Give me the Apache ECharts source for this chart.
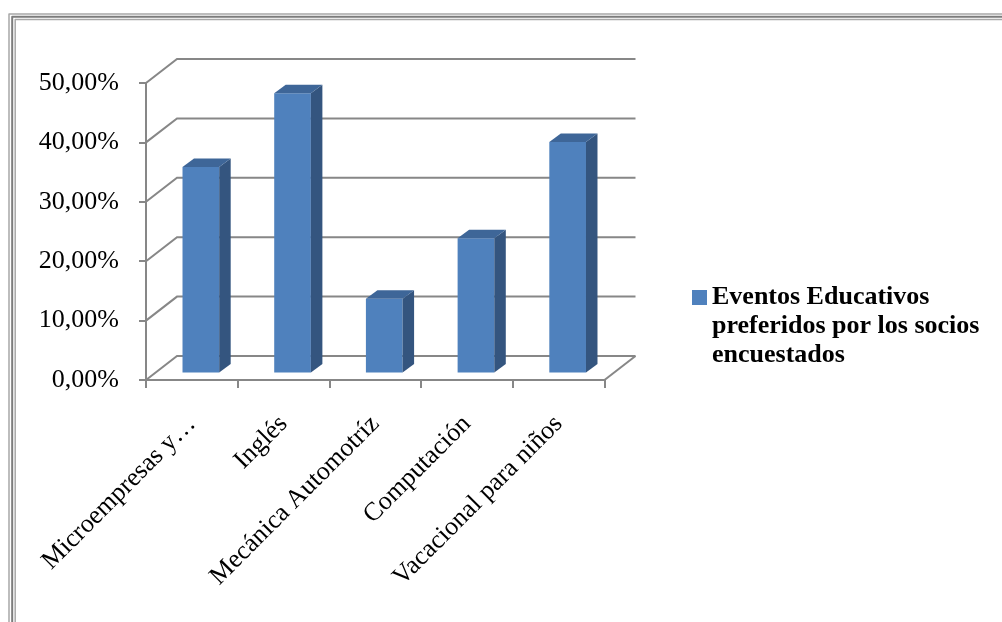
<!DOCTYPE html>
<html>
<head>
<meta charset="utf-8">
<script src="https://cdn.jsdelivr.net/npm/echarts@6/dist/echarts.min.js"></script>
<style>
  html, body { margin: 0; padding: 0; background: #ffffff; }
  #chart { width: 1002px; height: 622px; }
</style>
</head>
<body>
<div id="chart"></div>
<script>
// Categories, values (share of respondents) and value-axis ticks
const categories = ['Microempresas y…', 'Inglés', 'Mecánica Automotríz', 'Computación', 'Vacacional para niños'];
const values = [0.346, 0.470, 0.124, 0.226, 0.388];
const seriesName = 'Eventos Educativos\npreferidos por los socios\nencuestados';
const yTicks = [0, 0.1, 0.2, 0.3, 0.4, 0.5];

// Oblique 3D projection settings (pixels)
const DEPTH_X = 31, DEPTH_Y = 24;       // depth of floor / side wall
const BAR_OFF_X = 9, BAR_OFF_Y = 7.5;   // bar front face set back into the depth
const BAR_D_X = 11.5, BAR_D_Y = 8.5;    // bar thickness in depth
const GRID_COLOR = '#878787';
const FONT = '"Liberation Serif", "Times New Roman", serif';

const chart = echarts.init(document.getElementById('chart'), null, { renderer: 'canvas' });

// Back wall gridlines, side wall diagonals and the floor outline
function renderWalls(params, api) {
  const cs = params.coordSys;
  const y = api.coord([0, api.value(1)])[1];
  const left = cs.x, right = cs.x + cs.width;
  const style = { stroke: GRID_COLOR, lineWidth: 2, fill: null };
  const children = [{
    type: 'polyline',
    shape: { points: [[left, y], [left + DEPTH_X, y - DEPTH_Y], [right + DEPTH_X, y - DEPTH_Y]] },
    style: style
  }];
  if (api.value(1) === 0) {
    children.push({
      type: 'line',
      shape: { x1: right, y1: y, x2: right + DEPTH_X, y2: y - DEPTH_Y },
      style: style
    });
  }
  return { type: 'group', children: children };
}

// Box-shaped bar: front face, right side and top
function renderBar(params, api) {
  const idx = api.value(0);
  const base = api.coord([idx, 0]);
  const top = api.coord([idx, api.value(1)]);
  const bw = api.size([1, 0])[0] * 0.4;
  const fx = base[0] - bw / 2 + BAR_OFF_X;
  const bx = fx + bw;
  const by = base[1] - BAR_OFF_Y;
  const ty = top[1] - BAR_OFF_Y;
  return {
    type: 'group',
    children: [
      {
        type: 'rect',
        shape: { x: fx, y: ty, width: bw, height: by - ty },
        style: { fill: '#4f81bd' }
      },
      {
        type: 'polygon',
        shape: { points: [[bx, by], [bx, ty], [bx + BAR_D_X, ty - BAR_D_Y], [bx + BAR_D_X, by - BAR_D_Y]] },
        style: { fill: '#34557f' }
      },
      {
        type: 'polygon',
        shape: { points: [[fx, ty], [bx, ty], [bx + BAR_D_X, ty - BAR_D_Y], [fx + BAR_D_X, ty - BAR_D_Y]] },
        style: { fill: '#3e6698' }
      }
    ]
  };
}

// Double frame around the chart area (open to the right and bottom)
function frameLine(x, y, color, width) {
  return {
    type: 'polyline',
    silent: true,
    shape: { points: [[x, 622], [x, y], [1002, y]] },
    style: { fill: null, stroke: color, lineWidth: width, lineJoin: 'round' }
  };
}

const option = {
  backgroundColor: '#ffffff',
  animation: false,
  grid: { left: 146, top: 83, width: 458.5, height: 297, containLabel: false },
  xAxis: {
    type: 'category',
    data: categories,
    boundaryGap: true,
    axisLine: { show: true, lineStyle: { color: GRID_COLOR, width: 2 } },
    axisTick: { show: true, interval: 0, length: 8, lineStyle: { color: GRID_COLOR, width: 2 } },
    axisLabel: {
      interval: 0, rotate: 45, margin: 40,
      fontFamily: FONT, fontSize: 26, color: '#000000'
    },
    splitLine: { show: false }
  },
  yAxis: {
    type: 'value',
    min: 0, max: 0.5, interval: 0.1,
    axisLine: { show: true, lineStyle: { color: GRID_COLOR, width: 2 } },
    axisTick: { show: true, length: 7, lineStyle: { color: GRID_COLOR, width: 2 } },
    splitLine: { show: false },
    axisLabel: {
      margin: 27,
      fontFamily: FONT, fontSize: 26, color: '#000000',
      formatter: function (v) { return (v * 100).toFixed(2).replace('.', ',') + '%'; }
    }
  },
  legend: {
    data: [seriesName],
    orient: 'vertical',
    left: 692,
    top: 225,
    padding: 0,
    icon: 'rect',
    itemWidth: 15,
    itemHeight: 15,
    itemGap: 0,
    selectedMode: false,
    // two blank lines on top keep the marker level with the first text line
    formatter: function (name) { return '\n\n' + name; },
    textStyle: {
      fontFamily: FONT, fontWeight: 'bold', fontSize: 26, lineHeight: 29,
      color: '#000000'
    }
  },
  graphic: [
    frameLine(9, 14, '#a8a8a8', 1.5),
    frameLine(12.2, 16.8, '#7c7c7c', 2),
    frameLine(15.2, 19.6, '#a8a8a8', 1.5)
  ],
  series: [
    {
      type: 'custom',
      silent: true,
      renderItem: renderWalls,
      data: yTicks.map(function (v) { return [0, v]; }),
      z: 1
    },
    {
      name: seriesName,
      type: 'custom',
      renderItem: renderBar,
      itemStyle: { color: '#4f81bd' },
      data: values.map(function (v, i) { return [i, v]; }),
      z: 2
    }
  ]
};

chart.setOption(option);
</script>
</body>
</html>
